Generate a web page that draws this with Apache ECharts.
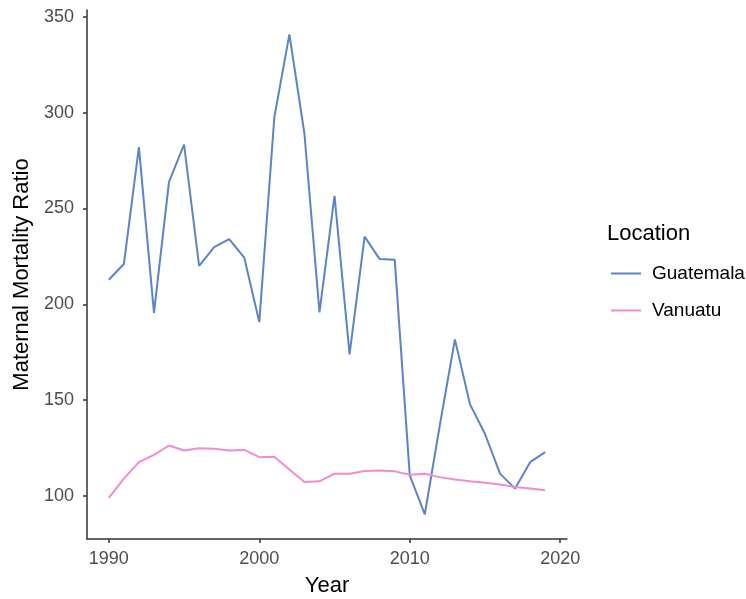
<!DOCTYPE html>
<html>
<head>
<meta charset="utf-8">
<script src="https://cdn.jsdelivr.net/npm/echarts@6/dist/echarts.min.js"></script>
<style>
  html, body { margin: 0; padding: 0; background: #fff; }
  #main { width: 746px; height: 599px; }
</style>
</head>
<body>
<div id="main"></div>
<script>
// data
var years = [1990,1991,1992,1993,1994,1995,1996,1997,1998,1999,2000,2001,2002,2003,2004,
             2005,2006,2007,2008,2009,2010,2011,2012,2013,2014,2015,2016,2017,2018,2019];
var guatemala = [212.8,221,282,195.5,263.9,283.4,220.1,229.8,234,224.4,190.7,297.6,340.9,289,195.8,
                 256.6,173.9,235.3,223.6,223.3,110.7,90.4,137,181.7,147.9,132.3,111.6,103.8,117.6,122.8];
var vanuatu = [99,109,117.6,121.4,126.3,123.7,124.9,124.6,123.7,124,120.2,120.4,113.8,107.3,107.6,
               111.6,111.6,113,113.3,112.8,111,111.6,109.8,108.6,107.6,106.8,105.9,104.6,103.8,102.9];
var xTicks = [1990, 2000, 2010, 2020];
var yTicks = [100, 150, 200, 250, 300, 350];

function pairs(vals) {
  return years.map(function (y, i) { return [y, vals[i]]; });
}

var font = 'Liberation Sans, Arial, sans-serif';
var myChart = echarts.init(document.getElementById('main'));
myChart.setOption({
  animation: false,
  backgroundColor: '#fff',
  grid: { left: 87, right: 179, top: 10, bottom: 60, outerBoundsMode: 'none' },
  title: {
    text: 'Location', left: 602, top: 218,
    textStyle: { fontFamily: font, fontSize: 22, fontWeight: 'normal', color: '#000' }
  },
  legend: {
    orient: 'vertical', left: 606, top: 259,
    itemWidth: 30, itemHeight: 2, itemGap: 18, icon: 'rect',
    textStyle: { fontFamily: font, fontSize: 19, color: '#000', padding: [0, 0, 0, 6] },
    data: ['Guatemala', 'Vanuatu']
  },
  xAxis: {
    type: 'value', min: 1988.55, max: 2020.45,
    name: 'Year', nameLocation: 'middle', nameGap: 36,
    nameTextStyle: { fontFamily: font, fontSize: 22, color: '#000' },
    axisLine: { lineStyle: { color: '#333', width: 1.5 } },
    axisTick: { show: true, length: 4, customValues: xTicks, lineStyle: { color: '#333', width: 1.5 } },
    axisLabel: {
      customValues: xTicks, fontFamily: font, fontSize: 18, color: '#4d4d4d', margin: 11,
      formatter: function (v) { return String(v); }
    },
    splitLine: { show: false }
  },
  yAxis: {
    type: 'value', min: 77.5, max: 353.6,
    name: 'Maternal Mortality Ratio', nameLocation: 'middle', nameGap: 53,
    nameTextStyle: { fontFamily: font, fontSize: 22, color: '#000' },
    axisLine: { show: true, lineStyle: { color: '#333', width: 1.5 } },
    axisTick: { show: true, length: 4, customValues: yTicks, lineStyle: { color: '#333', width: 1.5 } },
    axisLabel: { customValues: yTicks, fontFamily: font, fontSize: 18, color: '#4d4d4d', margin: 13 },
    splitLine: { show: false }
  },
  series: [
    {
      name: 'Guatemala', type: 'line', data: pairs(guatemala), symbol: 'none',
      lineStyle: { color: '#5b84c9', width: 2 }, itemStyle: { color: '#5b84c9' }
    },
    {
      name: 'Vanuatu', type: 'line', data: pairs(vanuatu), symbol: 'none',
      lineStyle: { color: '#f38bd3', width: 2 }, itemStyle: { color: '#f38bd3' }
    }
  ]
});
</script>
</body>
</html>
